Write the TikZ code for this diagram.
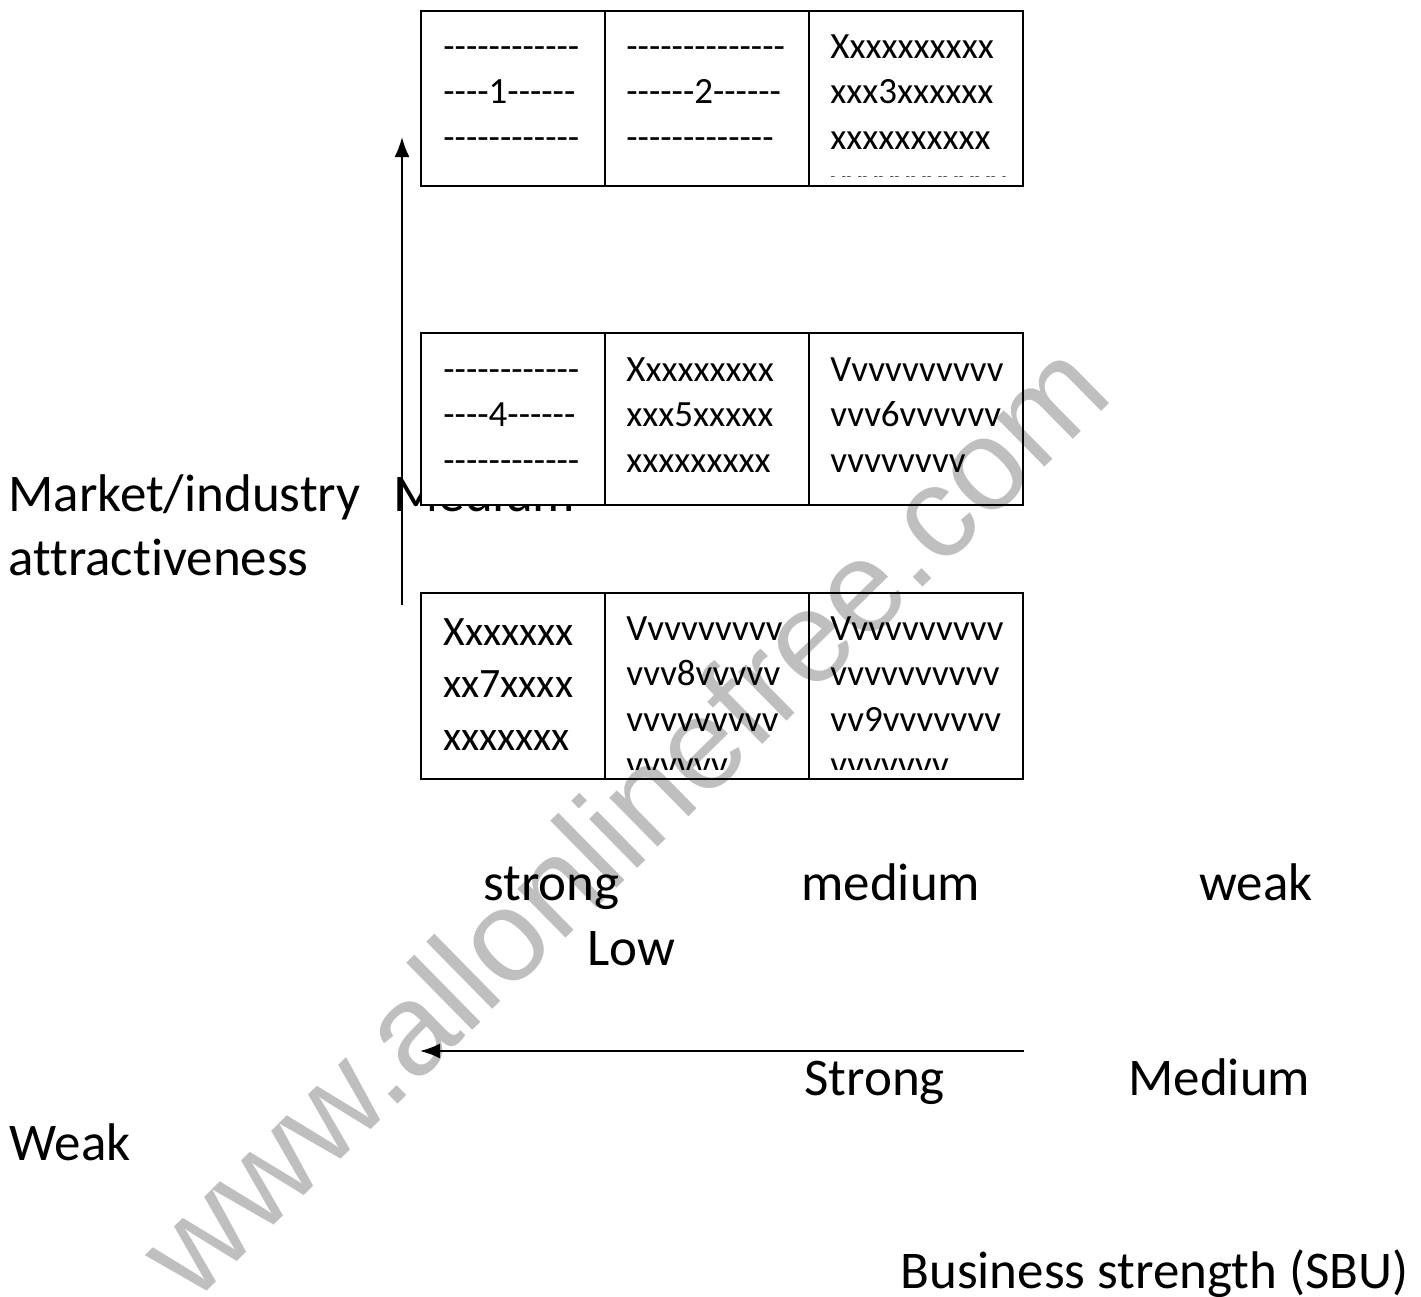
\documentclass[tikz,border=0pt]{standalone}
\usepackage{fontspec}
\setmainfont{Carlito}[Ligatures={TeXOff,NoCommon}]
\newfontfamily\markfont{Liberation Sans}
\usetikzlibrary{arrows.meta}
\tikzstyle{cell}=[draw,fill=white,line width=1pt,inner sep=0pt,outer sep=0pt,anchor=north west]
\tikzstyle{celltext}=[anchor=north west,inner sep=0pt,align=left,font=\fontsize{18.5}{22.75}\selectfont]
\tikzstyle{word}=[anchor=base west,inner sep=0pt,font=\fontsize{26.5}{32}\selectfont]
\tikzstyle{axis}=[draw,line width=1pt,-{Latex[length=10pt,width=7.5pt]}]
\newcommand{\cellstrut}{\rule{0pt}{15pt}}

\begin{document}
\begin{tikzpicture}[x=0.5pt,y=-0.5pt]
        \useasboundingbox[fill=white] (0,0) rectangle (1421,1297);
        % vertical axis title, the middle row covers most of "Medium"
        \node[word] (ytitle) at (8,511) {Market/industry};
        \node[word] (ymid) at (393,511) {Medium};
        \node[word] (ytitle2) at (8,575) {attractiveness};

        % top row
        \node[cell,minimum width=92pt,minimum height=87.5pt] (c1) at (421,11) {};
        \node[cell,minimum width=102pt,minimum height=87.5pt] (c2) at (605,11) {};
        \node[cell,minimum width=107pt,minimum height=87.5pt] (c3) at (809,11) {};
        \node[celltext] (t1) at ([shift={(22,17)}]c1.north west) {\cellstrut------------\\----1------\\------------};
        \node[celltext] (t2) at ([shift={(21,17)}]c2.north west) {\cellstrut--------------\\------2------\\-------------};
        \begin{scope}
          \clip (c3.north west) rectangle ([yshift=5pt]c3.south east);
          \node[celltext] (t3) at ([shift={(21,17)}]c3.north west) {\cellstrut Xxxxxxxxxx\\xxx3xxxxxx\\xxxxxxxxxx\\xxxxxxxxxxx};
        \end{scope}

        % middle row
        \node[cell,minimum width=92pt,minimum height=86pt] (c4) at (421,333) {};
        \node[cell,minimum width=102pt,minimum height=86pt] (c5) at (605,333) {};
        \node[cell,minimum width=107pt,minimum height=86pt] (c6) at (809,333) {};
        \node[celltext] (t4) at ([shift={(22,18)}]c4.north west) {\cellstrut------------\\----4------\\------------};
        \node[celltext] (t5) at ([shift={(21,18)}]c5.north west) {\cellstrut Xxxxxxxxx\\xxx5xxxxx\\xxxxxxxxx};
        \node[celltext] (t6) at ([shift={(21,18)}]c6.north west) {\cellstrut Vvvvvvvvvv\\vvv6vvvvvv\\vvvvvvvv};

        % bottom row
        \node[cell,minimum width=92pt,minimum height=93pt] (c7) at (421,593) {};
        \node[cell,minimum width=102pt,minimum height=93pt] (c8) at (605,593) {};
        \node[cell,minimum width=107pt,minimum height=93pt] (c9) at (809,593) {};
        \node[celltext,font=\fontsize{20.9}{26.25}\selectfont] (t7) at ([shift={(22,22)}]c7.north west) {\cellstrut Xxxxxxx\\xx7xxxx\\xxxxxxx};
        \begin{scope}
          \clip (c8.north west) rectangle ([yshift=5pt]c8.south east);
          \node[celltext] (t8) at ([shift={(21,17)}]c8.north west) {\cellstrut Vvvvvvvvv\\vvv8vvvvv\\vvvvvvvvv\\vvvvvv};
        \end{scope}
        \begin{scope}
          \clip (c9.north west) rectangle ([yshift=5pt]c9.south east);
          \node[celltext] (t9) at ([shift={(21,17)}]c9.north west) {\cellstrut Vvvvvvvvvv\\vvvvvvvvvv\\vv9vvvvvvv\\vvvvvvv};
        \end{scope}

        % axes
        \coordinate (ytail) at (402,605);
        \coordinate (yhead) at (402,137);
        \coordinate (xtail) at (1024,1051);
        \coordinate (xhead) at (420,1051);
        \draw[axis] (ytail) -- (yhead);
        \draw[axis] (xtail) -- (xhead);

        % horizontal axis words
        \node[word] (xstrong) at (483,900) {strong};
        \node[word] (xmedium) at (801,900) {medium};
        \node[word] (xweak) at (1199,900) {weak};
        \node[word] (ylow) at (587,965) {Low};
        \node[word] (bstrong) at (804,1095) {Strong};
        \node[word] (bmedium) at (1128,1095) {Medium};
        \node[word] (bweak) at (9,1160) {Weak};
        \node[word] (xtitle) at (900,1288) {Business strength (SBU)};

        % site mark across the page
        \node[font=\markfont\fontsize{65}{78}\selectfont,text opacity=0.25,rotate=44.5] (site) at (622,818) {www.allonlinefree.com};
\end{tikzpicture}
\end{document}
